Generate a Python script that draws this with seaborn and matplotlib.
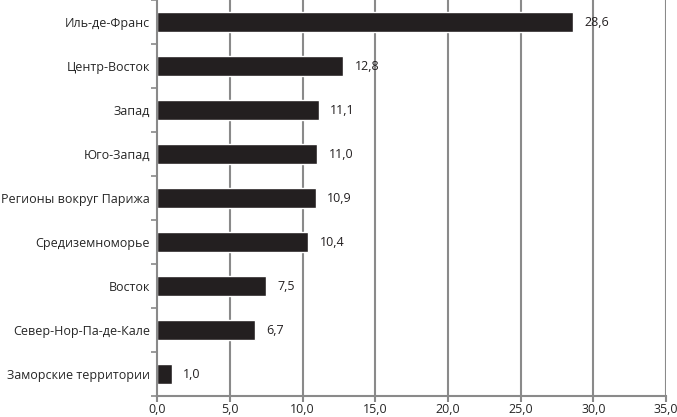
import seaborn as sns
import matplotlib.pyplot as plt
import pandas as pd

# Data
regions = ['Иль-де-Франс', 'Центр-Восток', 'Запад', 'Юго-Запад',
           'Регионы вокруг Парижа', 'Средиземноморье', 'Восток',
           'Север-Нор-Па-де-Кале', 'Заморские территории']
shares = [28.6, 12.8, 11.1, 11.0, 10.9, 10.4, 7.5, 6.7, 1.0]
xticks = [0, 5, 10, 15, 20, 25, 30, 35]

df = pd.DataFrame({'region': regions, 'share': shares})

sns.set_style('white')
plt.rcParams['font.family'] = ['Open Sans', 'DejaVu Sans']

fig = plt.figure(figsize=(6.77, 4.17), dpi=100)
ax = fig.add_axes([0.232, 0.05, 0.752, 0.95])

ax.set_axisbelow(True)
for x in xticks[1:]:
    ax.axvline(x, color='#8a8a8a', lw=1.5, zorder=0)

sns.barplot(data=df, x='share', y='region', color='#231f20',
            saturation=1, width=0.45, ax=ax, zorder=2)

for i, v in enumerate(shares):
    ax.text(v + 0.8, i, f'{v:.1f}'.replace('.', ','), va='center',
            ha='left', fontsize=9, color='#231f20')

ax.set_xlim(0, 35)
ax.set_ylim(len(regions) - 0.5, -0.5)
ax.set_xticks(xticks)
ax.set_xticklabels([f'{x:.1f}'.replace('.', ',') for x in xticks], fontsize=9)
ax.set_yticks(range(len(regions)))
ax.set_yticklabels(regions, fontsize=9)
ax.set_xlabel('')
ax.set_ylabel('')

# ticks at category boundaries on y axis
ax.set_yticks([i + 0.5 for i in range(-1, len(regions))], minor=True)
ax.tick_params(axis='y', which='major', length=0, pad=5)
ax.tick_params(axis='y', which='minor', length=4, width=1.2, color='#8a8a8a', direction='out', left=True)
ax.tick_params(axis='x', length=4, width=1.5, color='#8a8a8a', direction='out', bottom=True, pad=1)

for s in ['top', 'right']:
    ax.spines[s].set_visible(False)
for s in ['left', 'bottom']:
    ax.spines[s].set_color('#8a8a8a')
    ax.spines[s].set_linewidth(1.5)

fig.savefig('out.png', dpi=100)
